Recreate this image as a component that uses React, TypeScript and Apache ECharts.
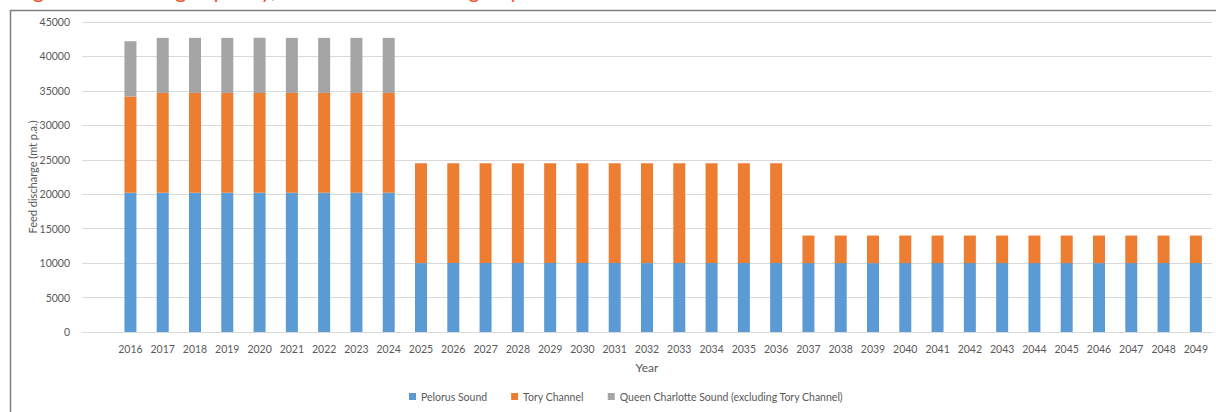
import React, { useEffect, useRef } from "react";
import * as echarts from "echarts";

// Category axis: a leading blank slot, then the years 2016–2049
const years: string[] = [
  "", "2016", "2017", "2018", "2019", "2020", "2021", "2022", "2023", "2024",
  "2025", "2026", "2027", "2028", "2029", "2030", "2031", "2032", "2033", "2034",
  "2035", "2036", "2037", "2038", "2039", "2040", "2041", "2042", "2043", "2044",
  "2045", "2046", "2047", "2048", "2049",
];

// Feed discharge (mt p.a.) by location
const pelorusSound: (number | null)[] = [
  null, 20200, 20200, 20200, 20200, 20200, 20200, 20200, 20200, 20200,
  10000, 10000, 10000, 10000, 10000, 10000, 10000, 10000, 10000, 10000,
  10000, 10000, 10000, 10000, 10000, 10000, 10000, 10000, 10000, 10000,
  10000, 10000, 10000, 10000, 10000,
];
const toryChannel: (number | null)[] = [
  null, 14000, 14500, 14500, 14500, 14500, 14500, 14500, 14500, 14500,
  14500, 14500, 14500, 14500, 14500, 14500, 14500, 14500, 14500, 14500,
  14500, 14500, 4000, 4000, 4000, 4000, 4000, 4000, 4000, 4000,
  4000, 4000, 4000, 4000, 4000,
];
const queenCharlotte: (number | null)[] = [
  null, 8000, 8000, 8000, 8000, 8000, 8000, 8000, 8000, 8000,
  0, 0, 0, 0, 0, 0, 0, 0, 0, 0,
  0, 0, 0, 0, 0, 0, 0, 0, 0, 0,
  0, 0, 0, 0, 0,
];

const seriesNames = [
  "Pelorus Sound",
  "Tory Channel",
  "Queen Charlotte Sound (excluding Tory Channel)",
];
const seriesColors = ["#5B9BD5", "#ED7D31", "#A5A5A5"];

const FONT = "Lato, 'Open Sans', sans-serif";
const TEXT_COLOR = "#595959";

export default function App() {
  const ref = useRef<HTMLDivElement>(null);

  useEffect(() => {
    if (!ref.current) return;
    const chart = echarts.init(ref.current, undefined, { renderer: "svg" });
    const values = [pelorusSound, toryChannel, queenCharlotte];

    chart.setOption({
      animation: false,
      backgroundColor: "#ffffff",
      textStyle: { fontFamily: FONT },
      grid: { left: 82, right: 4, top: 22, bottom: 80, containLabel: false },
      graphic: [
        {
          type: "text",
          left: 15,
          top: -22,
          style: {
            text: "Figure 4:  Existing capacity, annual feed discharge by location",
            fill: "#EE5A2A",
            font: "22px " + FONT,
          },
          silent: true,
        },
        {
          type: "line",
          shape: { x1: 10, y1: 10.5, x2: 1216, y2: 10.5 },
          style: { stroke: "#7F7F7F", lineWidth: 1.5 },
          silent: true,
        },
        {
          type: "line",
          shape: { x1: 10.5, y1: 10, x2: 10.5, y2: 412 },
          style: { stroke: "#7F7F7F", lineWidth: 1.5 },
          silent: true,
        },
      ],
      legend: {
        data: seriesNames,
        bottom: 5,
        left: 404,
        icon: "rect",
        itemWidth: 7,
        itemHeight: 7,
        itemGap: 24,
        textStyle: { color: TEXT_COLOR, fontSize: 10.5, fontFamily: FONT },
      },
      xAxis: {
        type: "category",
        data: years,
        name: "Year",
        nameLocation: "middle",
        nameGap: 29,
        nameTextStyle: { color: TEXT_COLOR, fontSize: 12, fontFamily: FONT },
        axisLine: { show: true, lineStyle: { color: "#D9D9D9", width: 1 } },
        axisTick: { show: false },
        axisLabel: {
          interval: 0,
          color: TEXT_COLOR,
          fontSize: 10.5,
          margin: 11,
          fontFamily: FONT,
        },
      },
      yAxis: {
        type: "value",
        min: 0,
        max: 45000,
        interval: 5000,
        name: "Feed discharge (mt p.a.)",
        nameLocation: "middle",
        nameGap: 44,
        nameMoveOverlap: false,
        nameTextStyle: { color: TEXT_COLOR, fontSize: 11, fontFamily: FONT },
        axisLine: { show: false },
        axisTick: { show: false },
        axisLabel: {
          color: TEXT_COLOR,
          fontSize: 10.5,
          margin: 12,
          fontFamily: FONT,
          formatter: (v: number) => String(v),
        },
        splitLine: { lineStyle: { color: "#D9D9D9", width: 1 } },
      },
      series: seriesNames.map((name, i) => ({
        name,
        type: "bar",
        stack: "total",
        barWidth: 12,
        data: values[i],
        itemStyle: { color: seriesColors[i] },
      })),
    });

    return () => chart.dispose();
  }, []);

  return (
    <div
      ref={ref}
      style={{ position: "absolute", left: 0, top: 0, width: 1216, height: 412 }}
    />
  );
}
